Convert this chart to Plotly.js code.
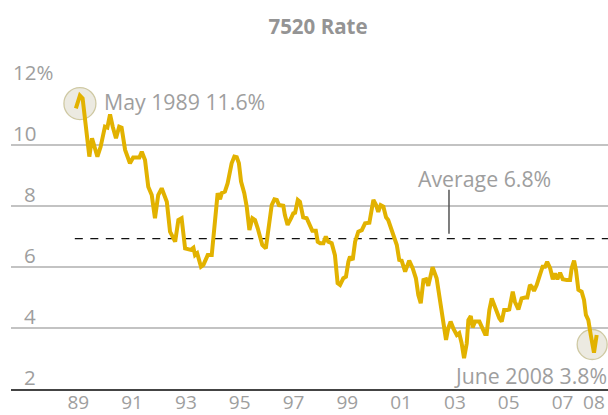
<!DOCTYPE html>
<html>
<head>
<meta charset="utf-8">
<script src="https://cdn.plot.ly/plotly-3.0.1.min.js"></script>
<style>html,body{margin:0;padding:0;background:#fff;}#chart{width:608px;height:415px;}</style>
</head>
<body>
<div id="chart"></div>
<script>
// ---- data ----
const years = [1988.91,1989.06,1989.16,1989.25,1989.41,1989.51,1989.71,1989.83,1989.99,1990.08,
1990.18,1990.28,1990.40,1990.52,1990.61,1990.74,1990.92,1991.04,1991.27,1991.36,
1991.48,1991.60,1991.73,1991.85,1991.97,1992.10,1992.29,1992.41,1992.60,1992.72,
1992.84,1992.97,1993.09,1993.18,1993.28,1993.34,1993.42,1993.56,1993.65,1993.81,
1993.96,1994.06,1994.18,1994.27,1994.33,1994.45,1994.55,1994.70,1994.80,1994.89,
1994.97,1995.05,1995.17,1995.26,1995.36,1995.47,1995.57,1995.67,1995.75,1995.84,
1995.97,1996.09,1996.19,1996.29,1996.38,1996.46,1996.62,1996.68,1996.78,1996.91,
1996.99,1997.06,1997.16,1997.24,1997.36,1997.49,1997.61,1997.70,1997.83,1997.90,
1997.99,1998.11,1998.20,1998.29,1998.42,1998.54,1998.64,1998.73,1998.85,1998.95,
1999.04,1999.10,1999.20,1999.29,1999.41,1999.54,1999.66,1999.82,1999.97,2000.07,
2000.15,2000.24,2000.34,2000.44,2000.52,2000.61,2000.74,2000.84,2000.93,2001.02,
2001.15,2001.30,2001.43,2001.55,2001.64,2001.73,2001.83,2001.93,2002.01,2002.10,
2002.17,2002.32,2002.45,2002.57,2002.67,2002.75,2002.84,2002.94,2003.07,2003.16,
2003.25,2003.34,2003.44,2003.50,2003.59,2003.66,2003.75,2003.91,2004.03,2004.12,
2004.18,2004.28,2004.37,2004.49,2004.65,2004.74,2004.83,2004.95,2005.02,2005.15,
2005.23,2005.36,2005.48,2005.61,2005.69,2005.79,2005.86,2005.94,2006.04,2006.16,
2006.26,2006.35,2006.43,2006.54,2006.64,2006.72,2006.81,2006.91,2007.01,2007.16,
2007.28,2007.34,2007.43,2007.50,2007.59,2007.71,2007.80,2007.87,2007.96,2008.05,
2008.17,2008.27];
const rate = [11.20,11.62,11.53,10.76,9.62,10.22,9.62,9.94,10.60,10.57,
11.00,10.60,10.22,10.60,10.57,9.84,9.40,9.59,9.59,9.78,
9.51,8.63,8.36,7.60,8.36,8.58,8.14,7.16,6.83,7.54,
7.60,6.61,6.59,6.56,6.63,6.39,6.45,6.01,6.07,6.39,
6.39,7.43,8.42,8.22,8.42,8.47,8.74,9.40,9.62,9.60,
9.40,8.80,8.42,7.98,7.21,7.60,7.54,7.27,7.05,6.72,
6.61,7.54,8.03,8.22,8.20,8.03,8.01,7.70,7.38,7.60,
7.76,7.78,8.20,8.14,7.63,7.60,7.38,7.19,7.19,6.83,
6.78,6.78,7.00,6.83,6.78,6.39,5.47,5.41,5.63,5.68,
6.17,6.34,6.23,6.83,7.16,7.21,7.43,7.45,8.20,8.03,
7.81,8.03,7.98,7.63,7.54,7.32,7.02,6.72,6.23,6.21,
5.85,6.21,5.96,5.63,5.08,4.81,5.57,5.60,5.38,5.68,
5.99,5.63,4.92,4.15,3.61,3.99,4.21,3.99,3.77,3.83,
3.50,3.01,3.50,4.26,4.39,4.02,4.21,4.21,3.99,3.80,
3.80,4.59,4.97,4.70,4.32,4.21,4.59,4.59,4.61,5.19,
4.86,4.61,4.97,5.00,5.00,5.41,5.35,5.22,5.41,5.74,
6.01,6.01,6.17,5.96,5.60,5.79,5.60,5.81,5.60,5.57,
5.57,5.96,6.21,5.90,5.25,5.19,4.92,4.43,4.26,3.77,
3.19,3.77];
const averageRate = 6.93;          // dashed line as drawn
const xTickVals = [1989,1991,1993,1995,1997,1999,2001,2003,2005,2007,2008.17];
const xTickText = ['89','91','93','95','97','99','01','03','05','07','08'];
const yTickVals = [2,4,6,8,10,12];
const yTickText = ['2','4','6','8','10','12%'];
const titleText = '7520 Rate';
const peakLabel = 'May 1989 11.6%';
const endLabel = 'June 2008 3.8%';
const avgLabel = 'Average 6.8%';

// ---- layout helpers ----
const W = 608, H = 415, mL = 11, mR = 0, mT = 84, mB = 26;
const plotW = W - mL - mR;
const pxToPaper = px => (px - mL) / plotW;
const FONT = 'Open Sans, Noto Sans, sans-serif';
const GREY = '#9e9e9e';
const GOLD = '#e2b200';

let peakIdx = 0;
rate.forEach((v, i) => { if (v > rate[peakIdx]) peakIdx = i; });
const lastIdx = rate.length - 1;
const avgPointerX = 2002.78;

const annotations = yTickVals.map((v, i) => {
  const txt = yTickText[i];
  const pct = txt.endsWith('%');
  return {
    xref: 'paper', yref: 'y', x: pct ? pxToPaper(12.5) : pxToPaper(35.5), y: v,
    xanchor: pct ? 'left' : 'right', yanchor: 'middle', yshift: 12,
    text: txt, showarrow: false, borderpad: 0, borderwidth: 0,
    font: {family: FONT, size: 20.5, color: GREY}
  };
});
annotations.push({
  xref: 'x', yref: 'y', x: years[peakIdx], y: rate[peakIdx],
  xanchor: 'left', yanchor: 'middle', xshift: 24, yshift: -6,
  text: peakLabel, showarrow: false, borderpad: 0, borderwidth: 0,
  font: {family: FONT, size: 21.3, color: GREY}
});
annotations.push({
  xref: 'x', yref: 'y', x: avgPointerX, y: averageRate,
  xanchor: 'center', yanchor: 'middle', xshift: 36, yshift: 60,
  text: avgLabel, showarrow: false, borderpad: 0, borderwidth: 0,
  font: {family: FONT, size: 21.3, color: GREY}
});
annotations.push({
  xref: 'paper', yref: 'y', x: 1, y: rate[lastIdx],
  xanchor: 'right', yanchor: 'middle', xshift: -1, yshift: -40,
  text: endLabel, showarrow: false, borderpad: 0, borderwidth: 0,
  font: {family: FONT, size: 21.3, color: GREY}
});

const shapes = [
  // highlight circles (below the line)
  {type: 'circle', layer: 'below', xref: 'x', yref: 'y',
   xsizemode: 'pixel', ysizemode: 'pixel', xanchor: years[peakIdx], yanchor: rate[peakIdx],
   x0: -16, x1: 16, y0: -24, y1: 8,
   fillcolor: '#eceae1', line: {color: '#cfc9a3', width: 1.3}},
  {type: 'circle', layer: 'below', xref: 'x', yref: 'y',
   xsizemode: 'pixel', ysizemode: 'pixel', xanchor: years[lastIdx], yanchor: rate[lastIdx],
   x0: -19.5, x1: 10.5, y0: -24.5, y1: 5.5,
   fillcolor: '#eceae1', line: {color: '#cfc9a3', width: 1.3}},
  // average dashed line
  {type: 'line', layer: 'below', xref: 'x', yref: 'y',
   x0: years[0] - 0.04, x1: 2008.69, y0: averageRate, y1: averageRate,
   line: {color: '#111', width: 1.3, dash: '8px,7.5px'}},
  // pointer from label to average line
  {type: 'line', layer: 'above', xref: 'x', yref: 'y',
   ysizemode: 'pixel', yanchor: averageRate,
   x0: avgPointerX, x1: avgPointerX, y0: 5, y1: 49,
   line: {color: '#555', width: 1.5}}
];

const trace = {
  x: years, y: rate, type: 'scatter', mode: 'lines',
  line: {color: GOLD, width: 4, shape: 'linear'},
  hoverinfo: 'skip'
};

const layout = {
  width: W, height: H,
  margin: {l: mL, r: mR, t: mT, b: mB, pad: 0},
  paper_bgcolor: '#fff', plot_bgcolor: '#fff',
  showlegend: false,
  title: {text: '<b>' + titleText + '</b>', xref: 'container', yref: 'container',
          x: 318 / W, y: 1 - 27 / H, xanchor: 'center', yanchor: 'middle',
          font: {family: FONT, size: 20.5, color: '#949494'}},
  xaxis: {
    type: 'linear', range: [1986.498, 2008.691], fixedrange: true,
    tickmode: 'array', tickvals: xTickVals, ticktext: xTickText,
    showgrid: false, zeroline: false, showline: true,
    linecolor: '#444', linewidth: 1.6, ticks: '',
    ticklabelstandoff: -4,
    tickfont: {family: FONT, size: 19, color: GREY}
  },
  yaxis: {
    range: [2, 12], fixedrange: true,
    tickmode: 'array', tickvals: yTickVals,
    showticklabels: false, showgrid: true, gridcolor: '#c3c3c3', gridwidth: 1.5,
    zeroline: false, showline: false, ticks: ''
  },
  annotations: annotations,
  shapes: shapes
};

Plotly.newPlot('chart', [trace], layout, {staticPlot: true, displayModeBar: false});
</script>
</body>
</html>
